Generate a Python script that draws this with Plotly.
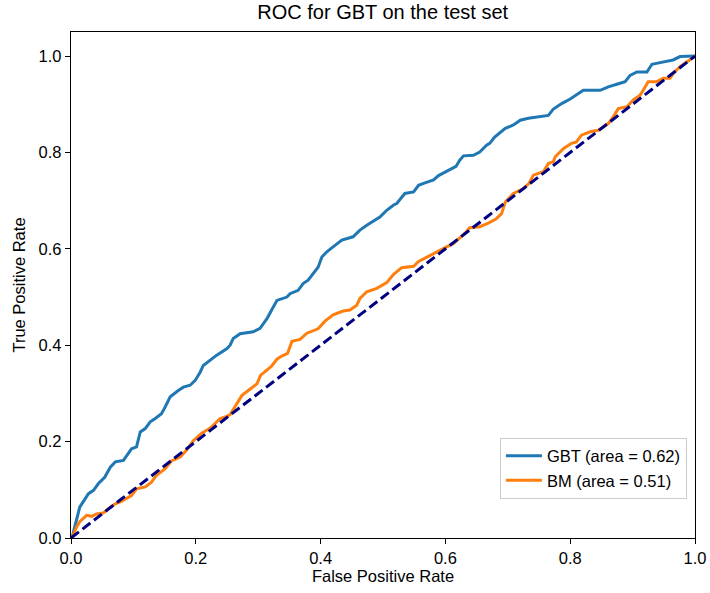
import plotly.graph_objects as go

# ROC data
gbt_fpr = [0.0, 0.002, 0.006, 0.014, 0.028, 0.036, 0.044, 0.054, 0.063, 0.071, 0.084, 0.092, 0.097, 0.105,
           0.111, 0.119, 0.127, 0.135, 0.145, 0.151, 0.159, 0.172, 0.180, 0.191, 0.199, 0.207, 0.212, 0.233,
           0.250, 0.255, 0.260, 0.271, 0.292, 0.303, 0.314, 0.324, 0.330, 0.346, 0.351, 0.364, 0.372, 0.380,
           0.388, 0.396, 0.402, 0.410, 0.420, 0.434, 0.452, 0.463, 0.474, 0.487, 0.495, 0.506, 0.517, 0.522,
           0.535, 0.549, 0.557, 0.565, 0.581, 0.589, 0.602, 0.617, 0.623, 0.629, 0.645, 0.655, 0.666, 0.671,
           0.679, 0.696, 0.709, 0.720, 0.733, 0.746, 0.765, 0.773, 0.787, 0.800, 0.810, 0.821, 0.848, 0.861,
           0.876, 0.888, 0.896, 0.907, 0.923, 0.931, 0.946, 0.965, 0.976, 1.0]
gbt_tpr = [0.0, 0.002, 0.023, 0.064, 0.092, 0.099, 0.113, 0.126, 0.147, 0.158, 0.161, 0.175, 0.185, 0.189,
           0.220, 0.227, 0.241, 0.248, 0.258, 0.272, 0.293, 0.306, 0.313, 0.317, 0.327, 0.344, 0.358, 0.379,
           0.393, 0.400, 0.414, 0.424, 0.428, 0.435, 0.455, 0.479, 0.493, 0.500, 0.507, 0.514, 0.528, 0.535,
           0.549, 0.562, 0.583, 0.594, 0.604, 0.618, 0.625, 0.639, 0.649, 0.659, 0.666, 0.680, 0.691, 0.694,
           0.715, 0.718, 0.732, 0.736, 0.743, 0.752, 0.761, 0.771, 0.784, 0.793, 0.794, 0.801, 0.815, 0.819,
           0.832, 0.850, 0.857, 0.867, 0.871, 0.874, 0.877, 0.890, 0.902, 0.911, 0.919, 0.929, 0.929, 0.936,
           0.942, 0.947, 0.960, 0.967, 0.967, 0.983, 0.987, 0.992, 0.999, 1.0]

bm_fpr = [0.0, 0.002, 0.009, 0.014, 0.025, 0.033, 0.041, 0.052, 0.060, 0.071, 0.079, 0.089, 0.097, 0.105,
          0.119, 0.129, 0.137, 0.151, 0.161, 0.175, 0.185, 0.196, 0.209, 0.225, 0.239, 0.247, 0.255, 0.263,
          0.274, 0.284, 0.292, 0.298, 0.304, 0.321, 0.330, 0.337, 0.347, 0.354, 0.367, 0.378, 0.396, 0.407,
          0.420, 0.436, 0.447, 0.458, 0.463, 0.474, 0.490, 0.500, 0.506, 0.517, 0.530, 0.549, 0.557, 0.572,
          0.585, 0.602, 0.613, 0.621, 0.631, 0.639, 0.655, 0.668, 0.681, 0.690, 0.696, 0.709, 0.725, 0.734,
          0.741, 0.757, 0.765, 0.773, 0.776, 0.789, 0.802, 0.810, 0.818, 0.832, 0.845, 0.861, 0.869, 0.877,
          0.891, 0.901, 0.912, 0.917, 0.925, 0.939, 0.949, 0.960, 0.965, 0.976, 0.987, 1.0]
bm_tpr = [0.0, 0.002, 0.023, 0.034, 0.047, 0.045, 0.050, 0.052, 0.061, 0.071, 0.075, 0.082, 0.088, 0.102,
          0.106, 0.116, 0.130, 0.144, 0.160, 0.168, 0.182, 0.202, 0.217, 0.230, 0.248, 0.251, 0.256, 0.273,
          0.296, 0.306, 0.313, 0.320, 0.338, 0.356, 0.371, 0.377, 0.383, 0.408, 0.412, 0.425, 0.434, 0.450,
          0.463, 0.471, 0.473, 0.483, 0.497, 0.511, 0.518, 0.526, 0.530, 0.547, 0.561, 0.564, 0.574, 0.584,
          0.592, 0.604, 0.611, 0.620, 0.632, 0.644, 0.646, 0.653, 0.662, 0.673, 0.697, 0.715, 0.725, 0.736,
          0.753, 0.760, 0.777, 0.781, 0.791, 0.808, 0.819, 0.822, 0.836, 0.843, 0.846, 0.860, 0.874, 0.891,
          0.895, 0.909, 0.919, 0.929, 0.947, 0.947, 0.954, 0.954, 0.964, 0.978, 0.988, 1.0]

chance_x = [0, 1]
chance_y = [0, 1]

gbt_name = "GBT (area = 0.62)"
bm_name = "BM (area = 0.51)"

fig = go.Figure()
fig.add_trace(go.Scatter(x=gbt_fpr, y=gbt_tpr, mode="lines", name=gbt_name,
                         line=dict(color="#1f77b4", width=3)))
fig.add_trace(go.Scatter(x=bm_fpr, y=bm_tpr, mode="lines", name=bm_name,
                         line=dict(color="#ff7f0e", width=3)))
fig.add_trace(go.Scatter(x=chance_x, y=chance_y, mode="lines", showlegend=False,
                         line=dict(color="#000080", width=3, dash="10px,4.5px")))

font_family = "Liberation Sans, Arial, sans-serif"
axis_common = dict(showline=True, linecolor="black", linewidth=1.3, mirror=True,
                   ticks="outside", ticklen=5, tickwidth=1.3, tickcolor="black",
                   showgrid=False, zeroline=False, tickfont=dict(size=16.5, color="black"),
                   tickformat=".1f", automargin=False)

fig.update_layout(
    width=710, height=593,
    margin=dict(l=71, r=15, t=32, b=55),
    paper_bgcolor="white", plot_bgcolor="white",
    font=dict(family=font_family, color="black"),
    title=dict(text="ROC for GBT on the test set", x=0.539, xanchor="center",
               y=0.979, yanchor="middle", font=dict(size=20)),
    xaxis=dict(range=[0, 1], tick0=0, dtick=0.2,
               title=dict(text="False Positive Rate", font=dict(size=16.5), standoff=4),
               **axis_common),
    yaxis=dict(range=[0, 1.05], tick0=0, dtick=0.2,
               title=dict(text="True Positive Rate", font=dict(size=16.5), standoff=8),
               **axis_common),
    legend=dict(x=0.987, y=0.078, xanchor="right", yanchor="bottom",
                bgcolor="rgba(255,255,255,0.8)", bordercolor="#cccccc", borderwidth=1,
                font=dict(size=16.5), tracegroupgap=2, itemwidth=36),
    showlegend=True,
)

fig.write_html("out.html")
